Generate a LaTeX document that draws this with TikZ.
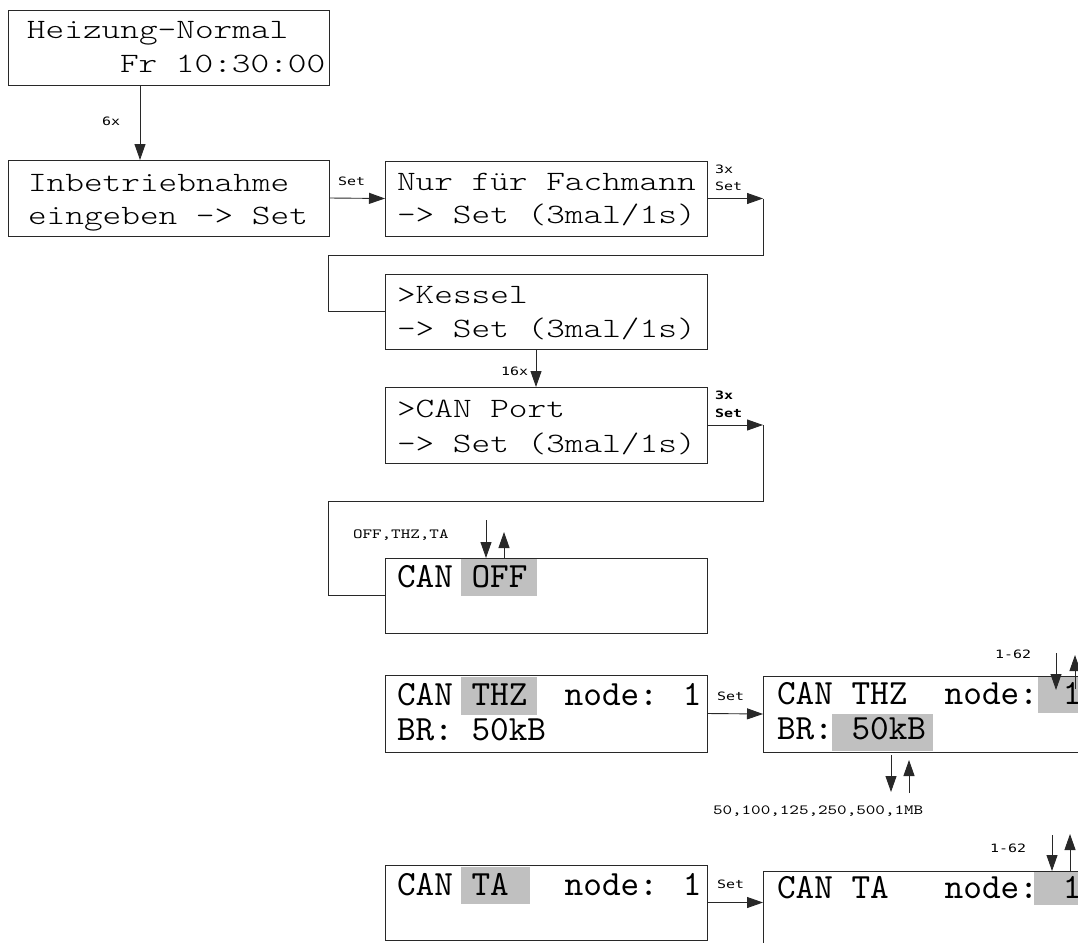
\documentclass[tikz,border=0pt]{standalone}
\usepackage{fontspec}
\usetikzlibrary{arrows.meta}
\newfontfamily\topfontfam[FakeStretch=1.27]{lmmonolt10-regular.otf}
\newfontfamily\lowfontfam{lmmono10-regular.otf}
\newfontfamily\lblfontfam[FakeStretch=1.3]{DejaVu Sans Mono}
\newfontfamily\serlblfam[FakeStretch=1.3]{lmmono10-regular.otf}
\newcommand\TopF{\topfontfam\fontsize{28}{28}\selectfont}
\newcommand\LowF{\lowfontfam\fontsize{35.5}{35.5}\selectfont}
\newcommand\LblF{\lblfontfam\fontsize{11.5}{11.5}\selectfont}
\newcommand\SerF{\serlblfam\fontsize{14}{14}\selectfont}
\definecolor{hlgray}{RGB}{192,192,192}
\definecolor{lncol}{RGB}{40,40,40}
\tikzset{
  box/.style={draw=lncol, line width=0.9pt, rectangle, inner sep=0pt, outer sep=0pt, anchor=north west, minimum width=322pt},
  arr/.style={draw=lncol, line width=0.9pt, -{Triangle[length=16pt,width=11pt]}},
  ln/.style={draw=lncol, line width=0.9pt},
  hl/.style={fill=hlgray, draw=none, inner sep=0pt, outer sep=0pt, anchor=north west},
  ttop/.style={anchor=base west, inner sep=0pt, outer sep=0pt, font=\TopF},
  tlow/.style={anchor=base west, inner sep=0pt, outer sep=0pt, font=\LowF},
  lbl/.style={anchor=base west, inner sep=0pt, outer sep=0pt, font=\LblF},
  slbl/.style={anchor=base west, inner sep=0pt, outer sep=0pt, font=\SerF},
}
\begin{document}
\begin{tikzpicture}[x=1pt,y=-1pt]
\useasboundingbox (0,0) rectangle (1078,942);
\clip (0,0) rectangle (1078,942);
% highlights
\node[hl, minimum width=76pt, minimum height=38pt] (hOFF) at (461,558) {};
\node[hl, minimum width=76pt, minimum height=38pt] (hTHZ) at (461,677) {};
\node[hl, minimum width=69pt, minimum height=37pt] (hTA) at (461,867) {};
\node[hl, minimum width=60pt, minimum height=37pt] (hN1) at (1038,676) {};
\node[hl, minimum width=101pt, minimum height=37pt] (hBR) at (832,714) {};
\node[hl, minimum width=60pt, minimum height=34pt] (hN2) at (1034,871) {};
% boxes
\node[box, minimum width=321pt, minimum height=75pt] (b1) at (8,10) {};
\node[box, minimum width=321pt, minimum height=76pt] (b2) at (8,160) {};
\node[box, minimum height=75pt] (b3) at (385,161) {};
\node[box, minimum height=75pt] (b4) at (385,274) {};
\node[box, minimum height=76pt] (b5) at (385,387) {};
\node[box, minimum height=75pt] (b6) at (385,558) {};
\node[box, minimum height=77pt] (b7) at (385,675) {};
\node[box, minimum height=76pt] (b8) at (763,676) {};
\node[box, minimum height=75pt] (b9) at (385,865) {};
\node[box, minimum height=75pt] (b10) at (763,871) {};
% texts
\node[ttop] (t1a) at (27,38) {Heizung-Normal};
\node[ttop] (t1b) at (120,73) {Fr 10:30:00};
\node[ttop] (t2a) at (28,191) {Inbetriebnahme};
\node[ttop] (t2b) at (28,224) {eingeben -> Set};
\node[ttop] (t3a) at (397,190) {Nur für Fachmann};
\node[ttop] (t3b) at (397,223) {-> Set (3mal/1s)};
\node[ttop] (t4a) at (397,303) {>Kessel};
\node[ttop] (t4b) at (397,337) {-> Set (3mal/1s)};
\node[ttop] (t5a) at (397,417) {>CAN Port};
\node[ttop] (t5b) at (397,452) {-> Set (3mal/1s)};
\node[tlow] (t6a) at (397,587) {CAN OFF};
\node[tlow] (t7a) at (397,705) {CAN THZ\ \ node: 1};
\node[tlow] (t7b) at (397,740) {BR: 50kB};
\node[tlow] (t8a) at (777,704) {CAN THZ\ \ node: 1};
\node[tlow] (t8b) at (777,739) {BR: 50kB};
\node[tlow] (t9a) at (397,895) {CAN TA\ \ \ node: 1};
\node[tlow] (t10a) at (777,898) {CAN TA\ \ \ node: 1};
% connectors
\coordinate (x140) at (140,0);
\draw[arr] (x140 |- b1.south) -- (x140 |- b2.north);
\node[lbl] (l6x) at (102,125) {6x};
\draw[arr] (b2.east) -- (b3.west);
\node[lbl] (lset1) at (338,185) {Set};
\coordinate (r1) at (763,255);
\coordinate (l1) at (328,255);
\draw[arr] (b3.east) -- (b3.east -| r1);
\draw[ln] (b3.east -| r1) -- (r1) -- (l1) |- (b4.west);
\node[lbl] (l3xa) at (715,173) {3x};
\node[lbl] (lseta) at (715,190) {Set};
\coordinate (x536) at (536,0);
\draw[arr] (x536 |- b4.south) -- (x536 |- b5.north);
\node[lbl, anchor=base east] (l16x) at (528,375) {16x};
\coordinate (r2) at (763,501);
\coordinate (l2) at (328,501);
\draw[arr] (b5.east) -- (b5.east -| r2);
\draw[ln] (b5.east -| r2) -- (r2) -- (l2) |- (b6.west);
\node[lbl, font=\LblF\bfseries] (l3xb) at (715,399) {3x};
\node[lbl, font=\LblF\bfseries] (lsetb) at (715,417) {Set};
% OFF arrows
\coordinate (o1) at (486,520);
\coordinate (o2) at (504,532);
\draw[arr] (o1) -- (o1 |- b6.north);
\draw[arr] (o2 |- b6.north) -- (o2);
\node[slbl] (loff) at (353,538) {OFF,THZ,TA};
% THZ
\draw[arr] (b7.east) -- (b8.west);
\node[lbl] (lset3) at (717,700) {Set};
\coordinate (n1s) at (1056,653);
\coordinate (n1e) at (1056,690);
\coordinate (n2s) at (1075,689);
\coordinate (n2e) at (1075,655);
\draw[arr] (n1s) -- (n1e);
\draw[arr] (n2s) -- (n2e);
\node[lbl] (l162a) at (995,658) {1-62};
\coordinate (m1s) at (891,755);
\coordinate (m1e) at (891,792);
\coordinate (m2s) at (909,793);
\coordinate (m2e) at (909,760);
\draw[arr] (m1s) -- (m1e);
\draw[arr] (m2s) -- (m2e);
\node[slbl] (lbr) at (713,814) {50,100,125,250,500,1MB};
% TA
\draw[arr] (b9.east) -- (b9.east -| b10.west);
\node[lbl] (lset4) at (717,888) {Set};
\coordinate (p1s) at (1052,835);
\coordinate (p1e) at (1052,871);
\coordinate (p2s) at (1070,871);
\coordinate (p2e) at (1070,834);
\draw[arr] (p1s) -- (p1e);
\draw[arr] (p2s) -- (p2e);
\node[lbl] (l162b) at (990,852) {1-62};
\end{tikzpicture}
\end{document}
